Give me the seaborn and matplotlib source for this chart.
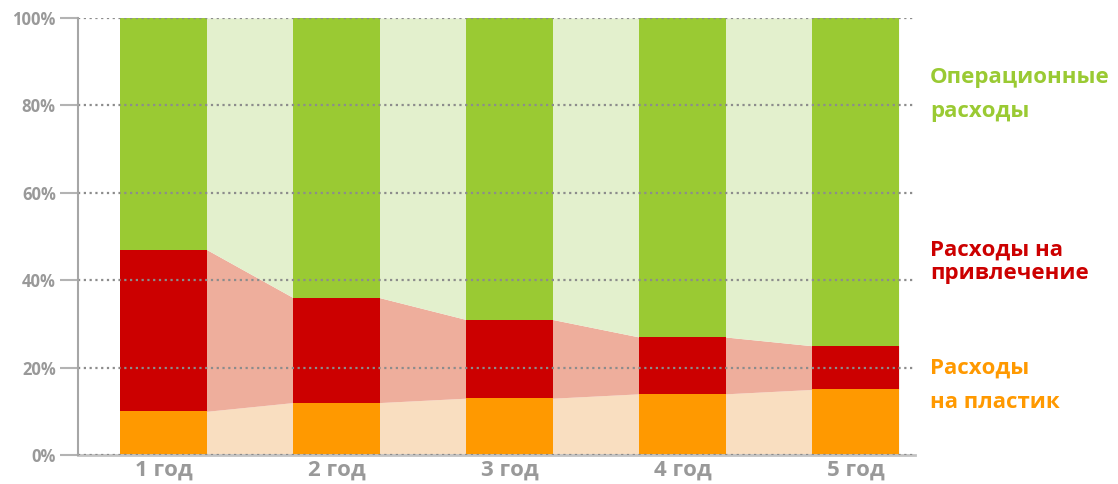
import numpy as np
import matplotlib
matplotlib.use("Agg")
import matplotlib.pyplot as plt
import seaborn as sns
import pandas as pd

years = ["1 год", "2 год", "3 год", "4 год", "5 год"]
plastic = [10, 12, 13, 14, 15]          # Расходы на пластик
acquisition = [37, 24, 18, 13, 10]      # Расходы на привлечение
operational = [53, 64, 69, 73, 75]      # Операционные расходы
yticks = [0, 20, 40, 60, 80, 100]
ytick_labels = ["0%", "20%", "40%", "60%", "80%", "100%"]

C_GREEN, C_RED, C_ORANGE = "#9aca33", "#cc0000", "#ff9900"
L_GREEN, L_RED, L_ORANGE = "#e3f0cd", "#eeae9c", "#f9dec0"
GRAY_TXT = "#999999"

sns.set_theme(style="white")
plt.rcParams["font.family"] = ["Open Sans", "DejaVu Sans"]

fig = plt.figure(figsize=(11.18, 4.84), dpi=100)
ax = fig.add_axes([78 / 1118, 29 / 484, (915 - 78) / 1118, (455 - 18) / 484])

df = pd.DataFrame({"year": years,
                   "plastic": plastic,
                   "acq_top": np.add(plastic, acquisition),
                   "total": np.add(np.add(plastic, acquisition), operational)})

# connecting bands between bars
w = 0.5
pos = np.arange(len(years))
xs = np.repeat(pos, 2) + np.tile([-w / 2, w / 2], len(years))
p_rep = np.repeat(df["plastic"].values, 2)
a_rep = np.repeat(df["acq_top"].values, 2)
t_rep = np.repeat(df["total"].values, 2)
ax.fill_between(xs, 0, p_rep, color=L_ORANGE, lw=0, zorder=0.5)
ax.fill_between(xs, p_rep, a_rep, color=L_RED, lw=0, zorder=0.5)
ax.fill_between(xs, a_rep, t_rep, color=L_GREEN, lw=0, zorder=0.5)

# stacked bars (drawn as overlaid cumulative totals)
sns.barplot(data=df, x="year", y="total", color=C_GREEN, saturation=1,
            width=w, errorbar=None, ax=ax, linewidth=0)
sns.barplot(data=df, x="year", y="acq_top", color=C_RED, saturation=1,
            width=w, errorbar=None, ax=ax, linewidth=0)
sns.barplot(data=df, x="year", y="plastic", color=C_ORANGE, saturation=1,
            width=w, errorbar=None, ax=ax, linewidth=0)

ax.set_xlim(-0.494, 4.344)
ax.set_ylim(0, 100)
ax.set_xlabel("")
ax.set_ylabel("")

ax.set_yticks(yticks)
ax.set_yticklabels(ytick_labels)
ax.tick_params(axis="y", length=18 * 0.72, width=1.5, color="#b3b3b3",
               pad=3, labelsize=12, labelcolor=GRAY_TXT, direction="out", left=True)
ax.tick_params(axis="x", length=0, pad=3, labelsize=16, labelcolor=GRAY_TXT)
for lab in ax.get_yticklabels() + ax.get_xticklabels():
    lab.set_fontweight("bold")

ax.set_axisbelow(False)
ax.yaxis.grid(True, color="#8c8c8c", linestyle=(0, (1, 1.6)), linewidth=1.6)
ax.xaxis.grid(False)

for s in ["top", "right"]:
    ax.spines[s].set_visible(False)
ax.spines["left"].set_color("#a6a6a6")
ax.spines["left"].set_linewidth(1.5)
ax.spines["bottom"].set_color("#c4c4c4")
ax.spines["bottom"].set_linewidth(2)
ax.spines["left"].set_zorder(3)

# category labels on the right
tx = 4.43
labels = [
    ("Операционные", 86.3, C_GREEN), ("расходы", 78.5, C_GREEN),
    ("Расходы на", 46.9, C_RED), ("привлечение", 41.6, C_RED),
    ("Расходы", 19.9, C_ORANGE), ("на пластик", 12.1, C_ORANGE),
]
for text, yv, col in labels:
    ax.text(tx, yv, text, color=col, fontsize=16, fontweight="bold",
            ha="left", va="center", clip_on=False)

fig.savefig("out.png", dpi=100)
